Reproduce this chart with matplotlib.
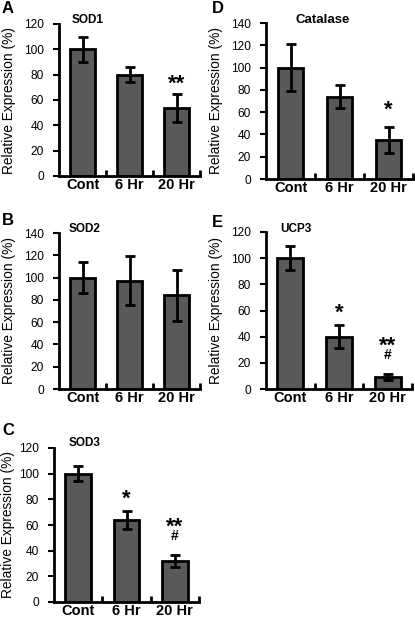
import matplotlib.pyplot as plt

plt.rcParams['font.family'] = ['Liberation Sans', 'DejaVu Sans']

groups = ["Cont", "6 Hr", "20 Hr"]

sod1_mean = [100, 80, 54]
sod1_err = [10, 6, 11]
sod2_mean = [100, 97, 84]
sod2_err = [14, 22, 23]
sod3_mean = [100, 64, 32]
sod3_err = [6, 7, 5]
catalase_mean = [100, 74, 35]
catalase_err = [21, 10, 12]
ucp3_mean = [100, 40, 9]
ucp3_err = [9, 9, 2.5]

# significance marks: vs control (*) and vs 6 Hr (#)
sod1_star = ["", "", "**"]
sod2_star = ["", "", ""]
sod3_star = ["", "*", "**"]
catalase_star = ["", "", "*"]
ucp3_star = ["", "*", "**"]
sod3_hash = ["", "", "#"]
ucp3_hash = ["", "", "#"]
no_hash = ["", "", ""]

W, H = 415, 624
fig = plt.figure(figsize=(W / 100, H / 100), dpi=100)


def px_rect(x0, y0, x1, y1):
    """Axes rect from pixel box (left, top, right, bottom)."""
    return [x0 / W, 1 - y1 / H, (x1 - x0) / W, (y1 - y0) / H]


def fig_text(x, y, s, **kw):
    fig.text(x / W, 1 - y / H, s, fontweight="bold", va="baseline", **kw)


# letter, title, data, ymax, axes box (px), letter pos, title pos, title size, ylabel offset, star gap
panels = [
    ("A", "SOD1", sod1_mean, sod1_err, sod1_star, no_hash, 120,
     (59, 24, 200, 176), (2, 13), (88, 23), 8.5, -43, 3),
    ("B", "SOD2", sod2_mean, sod2_err, sod2_star, no_hash, 140,
     (59, 233, 200, 389), (2, 225), (85, 232), 8.5, -43, 4.5),
    ("C", "SOD3", sod3_mean, sod3_err, sod3_star, sod3_hash, 120,
     (54, 448, 199, 602), (2, 435), (85, 446), 8.5, -39, 4.5),
    ("D", "Catalase", catalase_mean, catalase_err, catalase_star, no_hash, 140,
     (266, 23, 413, 179), (212, 13), (323, 23), 9.5, -43, 8),
    ("E", "UCP3", ucp3_mean, ucp3_err, ucp3_star, ucp3_hash, 120,
     (266, 232, 412, 389), (212, 227), (296, 232), 8.5, -43, 4.5),
]

for (letter, title, mean, err, stars, hashes, ymax,
     box, letter_xy, title_xy, title_size, ylab_dx, star_gap) in panels:
    x0, y0, x1, y1 = box
    ax = fig.add_axes(px_rect(*box))
    xs = range(len(groups))
    ax.bar(xs, mean, width=0.53, color="#595959", edgecolor="black", linewidth=2,
           yerr=err, error_kw=dict(ecolor="black", elinewidth=2, capsize=3.8, capthick=2))
    ax.set_xlim(-0.5, 2.5)
    ax.set_ylim(0, ymax)
    ax.set_yticks(range(0, ymax + 1, 20))
    for s in ("top", "right"):
        ax.spines[s].set_visible(False)
    for s in ("left", "bottom"):
        ax.spines[s].set_linewidth(2)
    ax.set_xticks(list(xs))
    ax.set_xticklabels(groups, fontsize=10.5, fontweight="bold")
    ax.set_xticks([0.5, 1.5, 2.5], minor=True)
    ax.tick_params(axis="x", which="major", length=0, pad=1.5)
    ax.tick_params(axis="x", which="minor", direction="in", length=4, width=2)
    ax.tick_params(axis="y", direction="out", length=4, width=1.5, labelsize=8.6, pad=7)
    ax.set_ylabel("Relative Expression (%)", fontsize=9.9)
    ax.yaxis.set_label_coords(ylab_dx / (x1 - x0), 0.5)

    fig_text(*title_xy, title, ha="center", fontsize=title_size)
    fig_text(*letter_xy, letter, ha="left", fontsize=12)

    for i, (m, e) in enumerate(zip(mean, err)):
        top = m + e
        star_y = star_gap
        if hashes[i]:
            ax.annotate(hashes[i], (i, top), xytext=(0, 10.5), textcoords="offset points",
                        ha="center", va="baseline", fontsize=10, fontweight="bold")
            star_y = 16
        if stars[i]:
            ax.annotate(stars[i], (i, top), xytext=(0, star_y), textcoords="offset points",
                        ha="center", va="baseline", fontsize=16, fontweight="bold")

fig.savefig("out.png", dpi=100)
